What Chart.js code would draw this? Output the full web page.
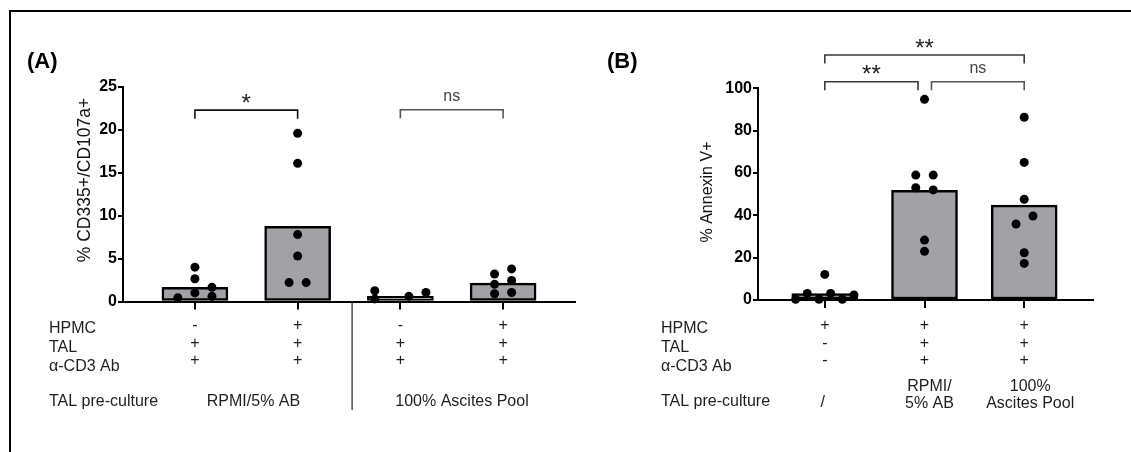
<!DOCTYPE html>
<html>
<head>
<meta charset="utf-8">
<script src="https://cdn.jsdelivr.net/npm/chart.js@4/dist/chart.umd.min.js"></script>
<style>
  html, body { margin: 0; padding: 0; background: #fff; }
  #page { position: relative; width: 1131px; height: 452px; overflow: hidden; }
  #frame { position: absolute; left: 9px; top: 10px; width: 1200px; height: 500px;
           border-top: 2px solid #000; border-left: 2px solid #000; }
  #chartA { position: absolute; left: 0; top: 0; }
  #chartB { position: absolute; left: 580px; top: 0; }
</style>
</head>
<body>
<div id="page">
  <div id="frame"></div>
  <canvas id="chartA" width="580" height="452"></canvas>
  <canvas id="chartB" width="551" height="452"></canvas>
</div>
<script>
// ---- data (A) : % CD335+/CD107a+ ----
const rowNames = ['HPMC', 'TAL', 'α-CD3 Ab'];
const hpmcA = ['-', '+', '-', '+'];
const talA  = ['+', '+', '+', '+'];
const cd3A  = ['+', '+', '+', '+'];
const cultureA = ['RPMI/5% AB', '100% Ascites Pool'];
const barsA = [1.65, 8.75, 0.6, 2.15];
const pointsA = [
  [0.45, 4.0, 2.65, 1.0, 1.65, 0.6],
  [19.6, 16.1, 7.8, 5.3, 2.2, 2.2],
  [1.25, 0.3, 0.6, 1.05],
  [3.2, 2.0, 0.9, 3.8, 2.45, 1.05]
];
// column slot of each dot inside its group (scatter spread)
const slotsA = [
  [-1, 0, 0, 0, 1, 1],
  [0, 0, 0, 0, -0.5, 0.5],
  [-1.5, -1.5, 0.5, 1.5],
  [-0.5, -0.5, -0.5, 0.5, 0.5, 0.5]
];
const ticksA = [0, 5, 10, 15, 20, 25];
const sigA = [
  { from: 0, to: 1, y: 22.3, text: '*' },
  { from: 2, to: 3, y: 22.35, text: 'ns' }
];

// ---- data (B) : % Annexin V+ ----
const hpmcB = ['+', '+', '+'];
const talB  = ['-', '+', '+'];
const cd3B  = ['-', '+', '+'];
const cultureB = [['/'], ['RPMI/', '5% AB'], ['100%', 'Ascites Pool']];
const barsB = [3.0, 51.8, 44.8];
const pointsB = [
  [0.3, 3.1, 0.3, 3.1, 0.3, 2.4, 12.1],
  [94.8, 59.0, 59.0, 53.0, 52.0, 28.3, 23.0],
  [86.3, 65.0, 47.6, 39.7, 35.9, 22.3, 17.3]
];
const slotsB = [
  [-2.5, -1.5, -0.5, 0.5, 1.5, 2.5, 0],
  [0, -0.75, 0.75, -0.75, 0.75, 0, 0],
  [0, 0, 0, 0.75, -0.7, 0, 0]
];
const ticksB = [0, 20, 40, 60, 80, 100];
const sigB = [
  { from: 0, to: 0.935, y: 103.1, text: '**' },
  { from: 1.07, to: 2, y: 103.1, text: 'ns' },
  { from: 0, to: 2, y: 115.7, text: '**' }
];

const FONT = '"Liberation Sans", Arial, sans-serif';
Chart.defaults.font.family = FONT;

// text rows under the x axis
const ROW_BASE = [333, 351.5, 370.5];
const SIGN_BASE = [330, 347.5, 365];

const tablePlugin = {
  id: 'table',
  afterDraw(chart) {
    const o = chart.options.plugins.table;
    const ctx = chart.ctx, xs = chart.scales.x, ys = chart.scales.y;
    ctx.save();

    // panel letter
    ctx.fillStyle = '#000';
    ctx.font = 'bold 22px ' + FONT;
    ctx.textAlign = 'left';
    ctx.textBaseline = 'alphabetic';
    ctx.fillText(o.letter, o.letterX, 68);

    // y axis title (rotated)
    ctx.save();
    ctx.translate(o.titleX, o.titleY);
    ctx.rotate(-Math.PI / 2);
    ctx.textAlign = 'center';
    ctx.textBaseline = 'middle';
    ctx.fillStyle = '#111';
    ctx.font = o.titleSize + 'px ' + FONT;
    ctx.fillText(o.title, 0, 0);
    ctx.restore();

    // row labels
    ctx.fillStyle = '#1e1e1e';
    ctx.font = '16px ' + FONT;
    rowNames.forEach((n, r) => ctx.fillText(n, o.labelX, ROW_BASE[r]));
    ctx.fillText('TAL pre-culture', o.labelX, 405.5);

    // +/- signs
    ctx.textAlign = 'center';
    o.rows.forEach((row, r) => row.forEach((s, i) => {
      ctx.fillText(s, xs.getPixelForValue(i), SIGN_BASE[r]);
    }));

    // culture labels
    o.culture.forEach(c => {
      c.lines.forEach((t, k) => {
        ctx.fillText(t, xs.getPixelForValue(c.at) + (c.dx || 0), c.base[k]);
      });
    });

    // separator
    if (o.sepAt != null) {
      const sx = xs.getPixelForValue(o.sepAt);
      ctx.strokeStyle = '#222';
      ctx.lineWidth = 1.2;
      ctx.beginPath();
      ctx.moveTo(sx, chart.chartArea.bottom);
      ctx.lineTo(sx, 410);
      ctx.stroke();
    }

    // significance brackets
    o.sig.forEach(s => {
      const x1 = xs.getPixelForValue(s.from), x2 = xs.getPixelForValue(s.to);
      const y = ys.getPixelForValue(s.y);
      const ns = s.text === 'ns';
      ctx.strokeStyle = ns ? '#555' : o.starLine;
      ctx.lineWidth = 1.6;
      ctx.beginPath();
      ctx.moveTo(x1, y + 8.5);
      ctx.lineTo(x1, y);
      ctx.lineTo(x2, y);
      ctx.lineTo(x2, y + 8.5);
      ctx.stroke();
      ctx.fillStyle = ns ? '#444' : '#222';
      ctx.font = (ns ? '16px ' : '24px ') + FONT;
      const m = ctx.measureText(s.text);
      const cy = y - (ns ? 13.5 : 12);
      const base = cy + (m.actualBoundingBoxAscent - m.actualBoundingBoxDescent) / 2;
      ctx.fillText(s.text, (x1 + x2) / 2, base);
    });
    ctx.restore();
  }
};

function scatterData(points, slots, slotW) {
  const out = [];
  points.forEach((g, i) => g.forEach((v, k) => out.push({ x: i + slots[i][k] * slotW, y: v })));
  return out;
}

function makePanel(id, p) {
  return new Chart(document.getElementById(id), {
    type: 'bar',
    data: {
      datasets: [
        {
          type: 'scatter',
          data: scatterData(p.points, p.slots, p.slotW),
          pointRadius: 4.5,
          pointBackgroundColor: '#000',
          pointBorderWidth: 0,
          clip: false,
          order: 0
        },
        {
          type: 'bar',
          data: p.bars.map((v, i) => ({ x: i, y: v })),
          backgroundColor: '#a2a2a6',
          borderColor: '#000',
          borderWidth: 2.5,
          borderSkipped: false,
          barThickness: 66,
          order: 1
        }
      ]
    },
    options: {
      responsive: false,
      animation: false,
      events: [],
      layout: { padding: p.padding },
      plugins: {
        legend: { display: false },
        tooltip: { enabled: false },
        table: p.table
      },
      scales: {
        x: {
          type: 'linear',
          min: p.xMin, max: p.xMax,
          offset: false,
          grid: { offset: false, drawOnChartArea: false, drawTicks: true, tickLength: 8, color: '#000', lineWidth: 2 },
          border: { display: true, color: '#000', width: 2 },
          ticks: { display: false },
          afterBuildTicks: axis => { axis.ticks = p.bars.map((_, i) => ({ value: i })); },
          afterFit: s => { s.height = p.xHeight; }
        },
        y: {
          min: 0, max: p.yTicks[p.yTicks.length - 1],
          grid: { drawOnChartArea: false, tickLength: 5, color: '#000', lineWidth: 2 },
          border: { color: '#000', width: 2 },
          ticks: { font: { size: 16, weight: 'bold' }, color: '#000', padding: 1 },
          afterBuildTicks: axis => { axis.ticks = p.yTicks.map(v => ({ value: v })); },
          title: { display: false },
          afterFit: s => { s.width = p.yWidth; }
        }
      }
    },
    plugins: [tablePlugin]
  });
}

makePanel('chartA', {
  bars: barsA, points: pointsA, slots: slotsA, slotW: 0.166,
  xMin: -0.7, xMax: 3.7, yTicks: ticksA,
  padding: { top: 87, right: 5, left: 0, bottom: 0 },
  xHeight: 150.5, yWidth: 123,
  table: {
    letter: '(A)', letterX: 27, labelX: 49,
    title: '% CD335+/CD107a+', titleX: 85, titleY: 180, titleSize: 17.5,
    rows: [hpmcA, talA, cd3A],
    culture: [
      { at: 0.57, lines: [cultureA[0]], base: [406] },
      { at: 2.6, lines: [cultureA[1]], base: [406] }
    ],
    sepAt: 1.53,
    sig: sigA, starLine: '#111'
  }
});

makePanel('chartB', {
  bars: barsB, points: pointsB, slots: slotsB, slotW: 0.117,
  xMin: -0.67, xMax: 2.69, yTicks: ticksB,
  padding: { top: 88.3, right: 38, left: 0, bottom: 0 },
  xHeight: 152, yWidth: 178,
  table: {
    letter: '(B)', letterX: 27, labelX: 81,
    title: '% Annexin V+', titleX: 128, titleY: 192, titleSize: 16,
    rows: [hpmcB, talB, cd3B],
    culture: [
      { at: 0, dx: -2, lines: cultureB[0], base: [407] },
      { at: 1, dx: 5, lines: cultureB[1], base: [390.5, 407.5] },
      { at: 2, dx: 6, lines: cultureB[2], base: [390.5, 407.5] }
    ],
    sepAt: null,
    sig: sigB, starLine: '#3a3a3a'
  }
});
</script>
</body>
</html>
